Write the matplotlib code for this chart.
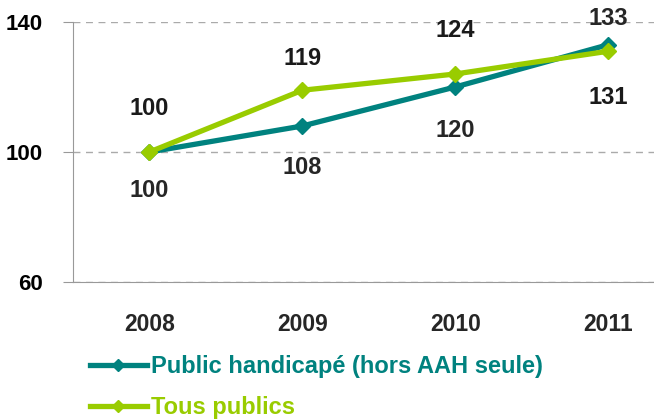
import numpy as np
import matplotlib.pyplot as plt

plt.rcParams['font.family'] = ['Liberation Sans', 'DejaVu Sans']
plt.rcParams['font.weight'] = 'bold'

annees = ['2008', '2009', '2010', '2011']
handicape = [100, 108, 120, 133]
tous = [100, 119, 124, 131]

teal = '#00827F'
vert = '#99CC00'

fig = plt.figure(figsize=(6.54, 4.19), dpi=100)
ax = fig.add_axes([0.1116, 0.327, 0.8884, 0.6205])

x = np.arange(len(annees))
ax.plot(x, handicape, color=teal, lw=3.8, marker='D', ms=8, label='Public handicapé (hors AAH seule)')
ax.plot(x, tous, color=vert, lw=3.8, marker='D', ms=8, label='Tous publics')

# decalage des etiquettes (en points)
dec_h = [-28, -30, -31, 19]
dec_t = [31, 23, 31, -33]
for i in range(len(x)):
    ax.annotate(str(handicape[i]), (x[i], handicape[i]), xytext=(0, dec_h[i]), textcoords='offset points',
                ha='center', va='center', fontsize=17, color='#262626')
    ax.annotate(str(tous[i]), (x[i], tous[i]), xytext=(0, dec_t[i]), textcoords='offset points',
                ha='center', va='center', fontsize=17, color='#1a1a1a')

ax.set_xlim(-0.5, 3.3)
ax.set_ylim(60, 140)
ax.set_yticks([60, 100, 140])
ax.set_xticks(x)
ax.set_xticklabels(annees)
ax.tick_params(axis='y', length=7, color='#999999', labelsize=16, pad=15)
ax.tick_params(axis='x', length=0, labelsize=16.5, pad=22, labelcolor='#262626')
ax.yaxis.grid(True, ls=(0, (5, 4)), color='#aaaaaa', lw=1)
ax.set_axisbelow(True)
for s in ['top', 'right']:
    ax.spines[s].set_visible(False)
ax.spines['left'].set_color('#999999')
ax.spines['bottom'].set_color('#999999')

leg = ax.legend(loc='upper left', bbox_to_anchor=(0.013, -0.245),
                bbox_transform=ax.transAxes, frameon=False, fontsize=17, handlelength=2.4,
                handletextpad=0.2, labelspacing=0.75, borderaxespad=0, numpoints=1)
for t, c in zip(leg.get_texts(), [teal, vert]):
    t.set_color(c)
for h in leg.get_lines():
    h.set_markersize(6)

fig.savefig('out.png', dpi=100)
